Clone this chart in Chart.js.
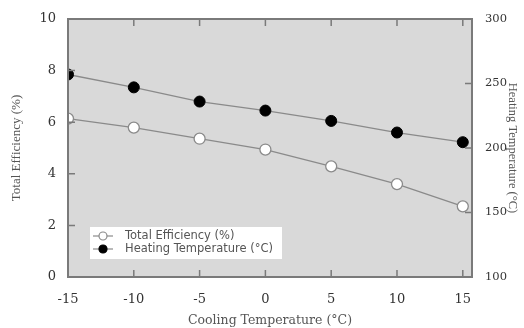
<!DOCTYPE html>
<html>
<head>
<meta charset="utf-8">
<script src="https://cdn.jsdelivr.net/npm/chart.js@4"></script>
<style>
  html, body { margin: 0; padding: 0; background: #fff; }
  #wrap { width: 524px; height: 328px; }
</style>
</head>
<body>
<div id="wrap"><canvas id="lineChart"></canvas></div>
<script>
// values
const coolingTemps = [-15, -10, -5, 0, 5, 10, 15];
const totalEfficiency = [6.14, 5.79, 5.36, 4.94, 4.29, 3.6, 2.74];
const heatingTemps = [257, 247, 236, 229, 221, 212, 204.5];

const xTicks = [-15, -10, -5, 0, 5, 10, 15];
const effTicks = [0, 2, 4, 6, 8, 10];
const heatTicks = [100, 150, 200, 250, 300];

const axisColor = '#7a7a7a';
const textColor = '#333333';
const titleColor = '#555555';

document.addEventListener('DOMContentLoaded', () => {
    const el = document.getElementById('lineChart');

    // gray plot area
    const plotBg = {
        id: 'plotBg',
        beforeDraw(chart) {
            const { ctx, chartArea: a } = chart;
            ctx.save();
            ctx.fillStyle = '#d9d9d9';
            ctx.fillRect(a.left, a.top, a.right - a.left, a.bottom - a.top);
            ctx.restore();
        }
    };

    // inward tick marks and the frame
    const innerTicks = {
        id: 'innerTicks',
        afterDatasetsDraw(chart) {
            const { ctx, chartArea: a, scales } = chart;
            const len = 7;
            ctx.save();
            ctx.strokeStyle = axisColor;
            ctx.lineWidth = 1.5;
            ctx.beginPath();
            scales.x.ticks.forEach(t => {
                const px = scales.x.getPixelForValue(t.value);
                ctx.moveTo(px, a.bottom); ctx.lineTo(px, a.bottom - len);
                ctx.moveTo(px, a.top); ctx.lineTo(px, a.top + len);
            });
            scales.y.ticks.forEach(t => {
                const py = scales.y.getPixelForValue(t.value);
                ctx.moveTo(a.left, py); ctx.lineTo(a.left + len, py);
            });
            scales.y1.ticks.forEach(t => {
                const py = scales.y1.getPixelForValue(t.value);
                ctx.moveTo(a.right, py); ctx.lineTo(a.right - len, py);
            });
            ctx.stroke();
            ctx.lineWidth = 2;
            ctx.strokeRect(a.left, a.top, a.right - a.left, a.bottom - a.top);
            ctx.restore();
        }
    };

    // legend box in the lower left of the plot
    const boxLegend = {
        id: 'boxLegend',
        afterDraw(chart) {
            const { ctx, chartArea: a } = chart;
            const x0 = a.left + 22, y0 = a.top + 208;
            ctx.save();
            ctx.fillStyle = '#ffffff';
            ctx.fillRect(x0, y0, 192, 32);
            ctx.font = '11.5px "DejaVu Sans"';
            ctx.textBaseline = 'middle';
            chart.data.datasets.forEach((ds, i) => {
                const cy = y0 + 9 + i * 13;
                ctx.strokeStyle = ds.borderColor;
                ctx.lineWidth = 1.2;
                ctx.beginPath();
                ctx.moveTo(x0 + 3, cy); ctx.lineTo(x0 + 23, cy);
                ctx.stroke();
                ctx.beginPath();
                ctx.arc(x0 + 13, cy, 4, 0, Math.PI * 2);
                ctx.fillStyle = ds.pointBackgroundColor;
                ctx.fill();
                ctx.strokeStyle = ds.pointBorderColor;
                ctx.stroke();
                ctx.fillStyle = titleColor;
                ctx.fillText(ds.label, x0 + 35, cy);
            });
            ctx.restore();
        }
    };

    new Chart(el, {
        type: 'line',
        data: {
            datasets: [{
                label: 'Total Efficiency (%)',
                data: coolingTemps.map((c, i) => ({ x: c, y: totalEfficiency[i] })),
                yAxisID: 'y',
                borderColor: '#8a8a8a',
                borderWidth: 1.3,
                pointRadius: 5.5,
                pointBackgroundColor: '#ffffff',
                pointBorderColor: '#8a8a8a',
                pointBorderWidth: 1.3
            }, {
                label: 'Heating Temperature (°C)',
                data: coolingTemps.map((c, i) => ({ x: c, y: heatingTemps[i] })),
                yAxisID: 'y1',
                borderColor: '#8a8a8a',
                borderWidth: 1.3,
                pointRadius: 5.5,
                pointBackgroundColor: '#000000',
                pointBorderColor: '#000000',
                pointBorderWidth: 1
            }]
        },
        options: {
            responsive: true,
            maintainAspectRatio: false,
            animation: false,
            layout: { padding: { top: 19 } },
            plugins: { legend: { display: false }, tooltip: { enabled: false } },
            scales: {
                x: {
                    type: 'linear',
                    min: -15,
                    max: 15.7,
                    afterFit(s) { s.height = 51; },
                    afterBuildTicks(s) { s.ticks = xTicks.map(v => ({ value: v })); },
                    grid: { display: false },
                    border: { display: false },
                    ticks: {
                        padding: 7,
                        color: textColor,
                        font: { family: 'DejaVu Serif', size: 13 }
                    },
                    title: {
                        display: true,
                        text: 'Cooling Temperature (°C)',
                        color: titleColor,
                        padding: { top: 0, bottom: 0 },
                        font: { family: 'DejaVu Serif', size: 12.5 }
                    }
                },
                y: {
                    position: 'left',
                    min: 0,
                    max: 10,
                    afterFit(s) { s.width = 68; },
                    afterBuildTicks(s) { s.ticks = effTicks.map(v => ({ value: v })); },
                    grid: { display: false },
                    border: { display: false },
                    ticks: {
                        padding: 4,
                        color: textColor,
                        font: { family: 'DejaVu Serif', size: 13 }
                    },
                    title: {
                        display: true,
                        text: 'Total Efficiency (%)',
                        color: titleColor,
                        padding: { top: 9, bottom: 9 },
                        font: { family: 'Liberation Serif', size: 13 }
                    }
                },
                y1: {
                    position: 'right',
                    min: 100,
                    max: 300,
                    afterFit(s) { s.width = 52; },
                    afterBuildTicks(s) { s.ticks = heatTicks.map(v => ({ value: v })); },
                    grid: { display: false },
                    border: { display: false },
                    ticks: {
                        padding: 5,
                        color: textColor,
                        font: { family: 'DejaVu Serif', size: 11.5 }
                    },
                    title: {
                        display: true,
                        text: 'Heating Temperature (°C)',
                        color: titleColor,
                        padding: { top: 4, bottom: 4 },
                        font: { family: 'Liberation Serif', size: 12.5 }
                    }
                }
            }
        },
        plugins: [plotBg, innerTicks, boxLegend]
    });
});
</script>
</body>
</html>
